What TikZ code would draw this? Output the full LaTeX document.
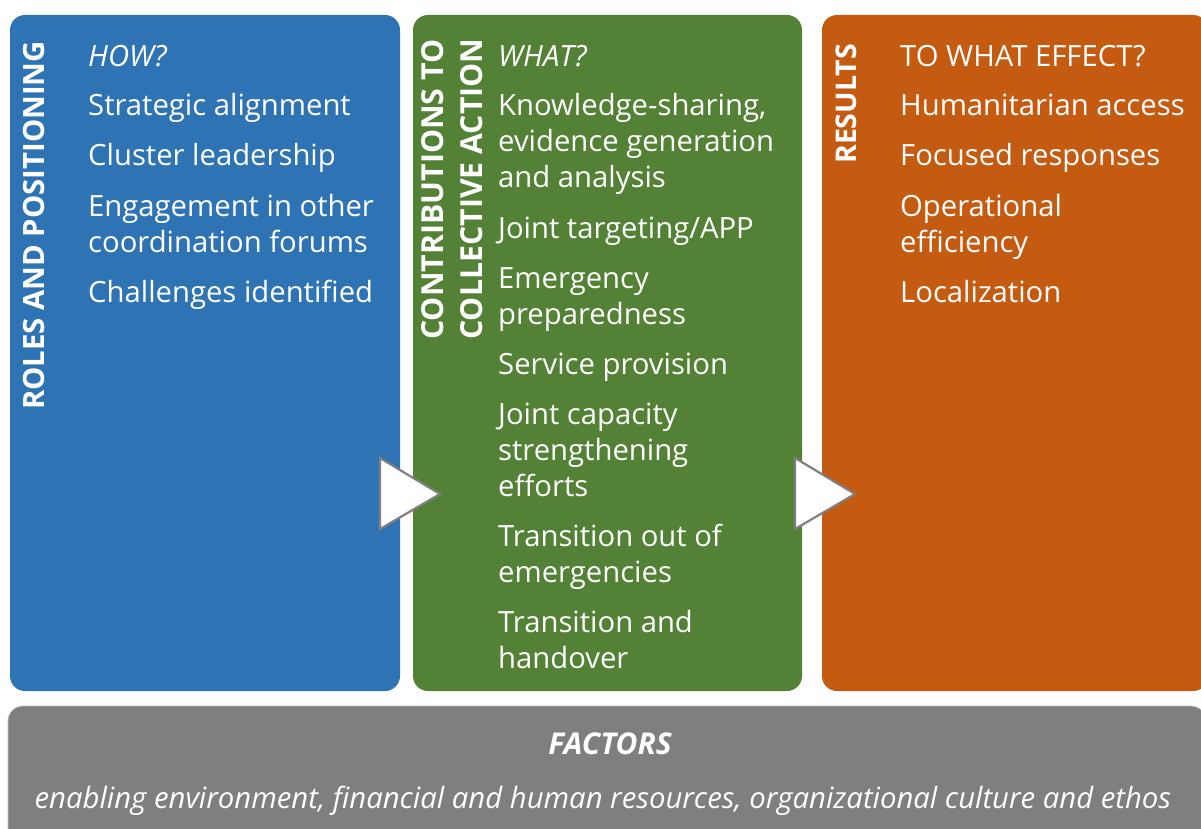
\documentclass[tikz,border=0pt]{standalone}
\usepackage{fontspec}
\setmainfont{Open Sans}
\definecolor{rolesblue}{HTML}{2E74B5}
\definecolor{contribgreen}{HTML}{538135}
\definecolor{resultorange}{HTML}{C55A11}
\definecolor{factorgray}{HTML}{7F7F7F}
\definecolor{factoredge}{HTML}{BFBFBF}
\begin{document}
\begin{tikzpicture}[x=1pt,y=-1pt,
  panel/.style={rounded corners=15pt, draw=none, inner sep=0pt, outer sep=0pt},
  item/.style={anchor=base west, inner sep=0pt, text=white,
    font=\fontsize{29.25}{36}\selectfont},
  question/.style={item, font=\fontsize{29.25}{36}\selectfont\itshape},
  sidelabel/.style={rotate=90, inner sep=0pt, text=white, align=left},
  flowtip/.style={fill=white, draw=factorgray, line width=2.2pt, line join=miter}]
\useasboundingbox (0,0) rectangle (1201,829);
\clip (0,0) rectangle (1201,829);

% three column panels
\path[panel, fill=rolesblue]    (10,15)  rectangle (400,691)  node[pos=0.5] (roles) {};
\path[panel, fill=contribgreen] (413,15) rectangle (802,691)  node[pos=0.5] (contrib) {};
\path[panel, fill=resultorange] (822,15) rectangle (1208,691) node[pos=0.5] (results) {};

% factors band along the bottom
\path[panel, fill=factorgray, draw=factoredge, line width=0.8pt]
  (8,706) rectangle (1206,860) node[pos=0.5] (factors) {};

% vertical column titles
\node[sidelabel, anchor=west, font=\fontsize{29.3}{36}\selectfont\bfseries]
  (rolestitle) at (34,410) {ROLES AND POSITIONING};
\node[sidelabel, anchor=west, font=\fontsize{30.3}{39}\selectfont\bfseries]
  (contribtitle) at (452,340) {CONTRIBUTIONS TO\\COLLECTIVE ACTION};
\node[sidelabel, anchor=west, font=\fontsize{28.5}{36}\selectfont\bfseries]
  (resultstitle) at (846,164) {RESULTS};

% column 1: how
\node[question] (how) at (88,67) {HOW?};
\node[item] (r1)  at (88,116) {Strategic alignment};
\node[item] (r2)  at (88,166) {Cluster leadership};
\node[item] (r3a) at (88,216) {Engagement in other};
\node[item] (r3b) at (88,252) {coordination forums};
\node[item] (r4)  at (88,302) {Challenges identified};

% column 2: what
\node[question] (what) at (498,67) {WHAT?};
\node[item] (c1a) at (498,116) {Knowledge-sharing,};
\node[item] (c1b) at (498,152) {evidence generation};
\node[item] (c1c) at (498,188) {and analysis};
\node[item] (c2)  at (498,238) {Joint targeting/APP};
\node[item] (c3a) at (498,288) {Emergency};
\node[item] (c3b) at (498,324) {preparedness};
\node[item] (c4)  at (498,374) {Service provision};
\node[item] (c5a) at (498,424) {Joint capacity};
\node[item] (c5b) at (498,460) {strengthening};
\node[item] (c5c) at (498,496) {efforts};
\node[item] (c6a) at (498,546) {Transition out of};
\node[item] (c6b) at (498,582) {emergencies};
\node[item] (c7a) at (498,632) {Transition and};
\node[item] (c7b) at (498,668) {handover};

% column 3: to what effect
\node[item] (effect) at (900,67) {TO WHAT EFFECT?};
\node[item] (e1)  at (900,116) {Humanitarian access};
\node[item] (e2)  at (900,166) {Focused responses};
\node[item] (e3a) at (900,216) {Operational};
\node[item] (e3b) at (900,252) {efficiency};
\node[item] (e4)  at (900,302) {Localization};

% flow arrows between the columns
\draw[flowtip] (380,458) -- (440,494) -- (380,529) -- cycle;
\draw[flowtip] (795,458) -- (855,494) -- (795,529) -- cycle;

% factors text
\node[inner sep=0pt, text=white, anchor=base, font=\fontsize{30}{36}\selectfont\bfseries\itshape]
  (factorstitle) at (610,754) {FACTORS};
\node[inner sep=0pt, text=white, anchor=base, font=\fontsize{29.3}{36}\selectfont\itshape]
  (factorslist) at (603,808)
  {enabling environment, financial and human resources, organizational culture and ethos};
\end{tikzpicture}
\end{document}
